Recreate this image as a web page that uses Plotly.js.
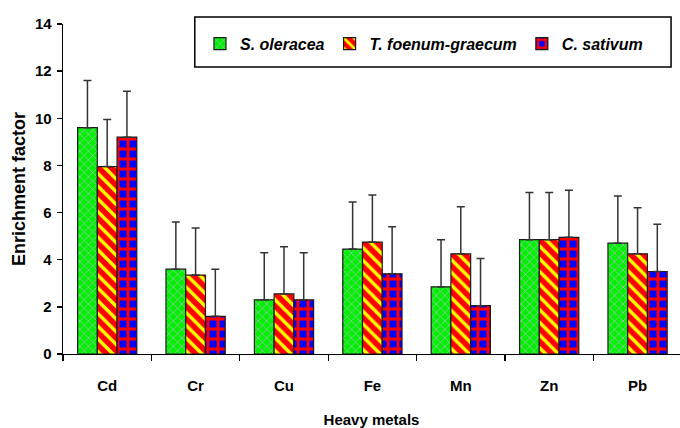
<!DOCTYPE html>
<html>
<head>
<meta charset="utf-8">
<script src="https://cdn.plot.ly/plotly-3.0.1.min.js"></script>
<style>html,body{margin:0;padding:0;background:#fff;}#chart{width:680px;height:428px;}</style>
</head>
<body>
<div id="chart"></div>
<script>
// Data
const metals = ["Cd", "Cr", "Cu", "Fe", "Mn", "Zn", "Pb"];
const seriesNames = ["S. oleracea", "T. foenum-graecum", "C. sativum"];
const sOleracea = [9.6, 3.6, 2.3, 4.45, 2.85, 4.85, 4.7];
const tFoenum   = [7.95, 3.35, 2.55, 4.75, 4.25, 4.85, 4.25];
const cSativum  = [9.2, 1.6, 2.3, 3.4, 2.05, 4.95, 3.5];
const errPlusS = [2.0, 2.0, 2.0, 2.0, 2.0, 2.0, 2.0];
const errPlusT = [2.0, 2.0, 2.0, 2.0, 2.0, 2.0, 1.95];
const errPlusC = [1.95, 2.0, 2.0, 2.0, 2.0, 2.0, 2.0];
const yTickVals = [0, 2, 4, 6, 8, 10, 12, 14];

const FONT = "Liberation Sans, Arial, sans-serif";
const zeros = metals.map(() => 0);

function errObj(arr) {
  return {type: "data", symmetric: false, array: arr, arrayminus: zeros,
          color: "#333333", thickness: 1.5, width: 4};
}

const traces = [
  {type: "bar", name: seriesNames[0], x: metals, y: sOleracea, error_y: errObj(errPlusS),
   marker: {color: "#22dd44", line: {color: "#1a1a1a", width: 1.2},
            pattern: {shape: "x", bgcolor: "#00f000", fgcolor: "#9cc4b4", size: 6, solidity: 0.25, fillmode: "replace"}}},
  {type: "bar", name: seriesNames[1], x: metals, y: tFoenum, error_y: errObj(errPlusT),
   marker: {color: "#ff2200", line: {color: "#1a1a1a", width: 1.2},
            pattern: {shape: "\\", bgcolor: "#ff0000", fgcolor: "#ffff00", size: 9, solidity: 0.38, fillmode: "replace"}}},
  {type: "bar", name: seriesNames[2], x: metals, y: cSativum, error_y: errObj(errPlusC),
   marker: {color: "#0000ff", line: {color: "#1a1a1a", width: 1.2},
            pattern: {shape: "+", bgcolor: "#0000ff", fgcolor: "#ff0000", size: 10, solidity: 0.5, fillmode: "replace"}}}
];

const layout = {
  width: 680, height: 428,
  margin: {l: 63, r: 0, t: 24, b: 74},
  paper_bgcolor: "#ffffff", plot_bgcolor: "#ffffff",
  font: {family: FONT, color: "#000000"},
  barmode: "group", bargap: 0.33, bargroupgap: 0,
  showlegend: true,
  legend: {orientation: "h", x: 0.222, xanchor: "left", y: 0.94, yanchor: "middle",
           bgcolor: "rgba(0,0,0,0)", borderwidth: 0, itemwidth: 30,
           font: {family: FONT, size: 16, color: "#000", weight: "bold", style: "italic"}},
  xaxis: {type: "category", range: [-0.5, 6.48], showline: true, linecolor: "#000", linewidth: 1.3,
          ticks: "outside", tickson: "boundaries", ticklen: 6, tickcolor: "#000", tickwidth: 1.3,
          showgrid: false, zeroline: false, ticklabelstandoff: 18,
          tickfont: {family: FONT, size: 15, weight: "bold", color: "#000"},
          title: {text: "Heavy metals", standoff: 22, font: {family: FONT, size: 15, weight: "bold", color: "#000"}}},
  yaxis: {range: [0, 14], tickvals: yTickVals, showline: true, linecolor: "#000", linewidth: 1.3,
          ticks: "outside", ticklen: 5, tickcolor: "#000", tickwidth: 1.3,
          showgrid: false, zeroline: false, ticklabelstandoff: 2,
          tickfont: {family: FONT, size: 15, weight: "bold", color: "#000"},
          title: {text: "Enrichment factor", standoff: 4, font: {family: FONT, size: 18, weight: "bold", color: "#000"}}},
  shapes: [{type: "rect", xref: "paper", yref: "paper", x0: 0.2136, x1: 0.9855, y0: 0.87, y1: 1.021,
            line: {color: "#000", width: 1.5}, fillcolor: "rgba(0,0,0,0)", layer: "above"}]
};

Plotly.newPlot("chart", traces, layout, {displayModeBar: false, staticPlot: true});
</script>
</body>
</html>
